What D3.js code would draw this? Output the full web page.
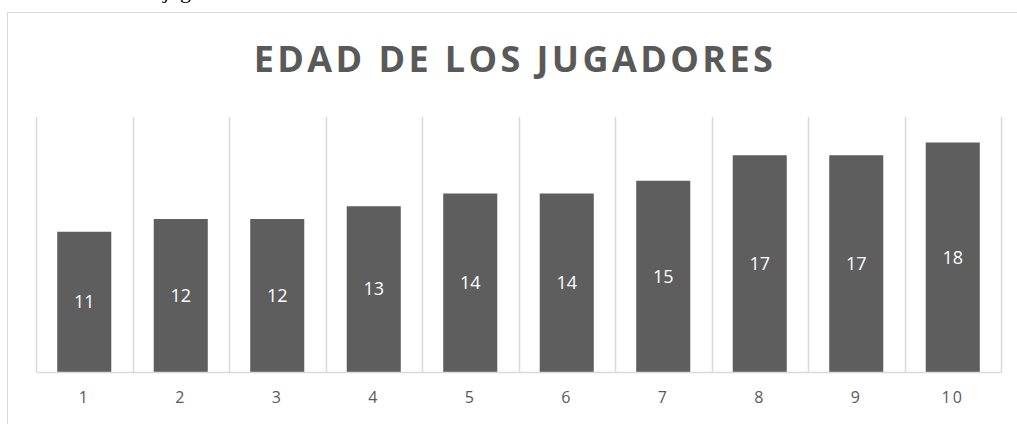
<!DOCTYPE html>
<html>
<head>
<script src="https://d3js.org/d3.v7.min.js"></script>
<style>
  body { margin: 0; background: #fff; }
  text { font-family: "Open Sans", Calibri, sans-serif; }
</style>
</head>
<body>
<svg class="target"></svg>
<script>

// jugadores 1..10 y su edad
categories = ['1', '2', '3', '4', '5', '6', '7', '8', '9', '10']
ages = [11, 12, 12, 13, 14, 14, 15, 17, 17, 18]
title = 'EDAD DE LOS JUGADORES'
yMax = 20

width = 1017
height = 424

margin = ({ top: 117, right: 16, bottom: 52, left: 36 })

svg = d3.select('.target')
      .attr('width', width)
      .attr('height', height)

// bits of the document text above the chart (only the descenders show)
svg.append('text')
    .attr('x', 163)
    .attr('y', -2)
    .style('font-family', '"Liberation Serif", serif')
    .style('font-size', '22px')
    .style('fill', '#000')
    .text('jug')

// chart frame
svg.append('rect')
    .attr('x', 7.5)
    .attr('y', 12.5)
    .attr('width', width + 10)
    .attr('height', height + 10)
    .style('fill', 'none')
    .style('stroke', '#d9d9d9')

x = d3.scaleBand()
    .domain(categories)
    .range([margin.left, width - margin.right])
    .paddingInner(0.44)
    .paddingOuter(0.22)

y = d3.scaleLinear()
    .domain([0, yMax])
    .range([height - margin.bottom, margin.top])

step = x.step()

// vertical gridlines between categories
svg.append('g')
  .selectAll('line')
  .data(d3.range(categories.length + 1))
  .join('line')
    .attr('x1', i => Math.round(margin.left + i * step) + 0.5)
    .attr('x2', i => Math.round(margin.left + i * step) + 0.5)
    .attr('y1', y(yMax))
    .attr('y2', y(0))
    .style('stroke', '#d9d9d9')
    .style('stroke-width', 1.5)

// bars
svg.append('g')
  .selectAll('rect')
  .data(ages)
  .join('rect')
    .attr('x', (d, i) => x(categories[i]))
    .attr('y', d => y(d))
    .attr('width', x.bandwidth())
    .attr('height', d => y(0) - y(d))
    .style('fill', '#5e5e5e')

// value labels in the middle of each bar
svg.append('g')
  .selectAll('text')
  .data(ages)
  .join('text')
    .attr('x', (d, i) => x(categories[i]) + x.bandwidth() / 2)
    .attr('y', d => (y(d) + y(0)) / 2)
    .attr('dy', '0.35em')
    .attr('text-anchor', 'middle')
    .style('font-size', '18px')
    .style('fill', '#fff')
    .text(d => d)

// x axis
xAxis = svg.append('g')
    .attr('transform', `translate(0,${y(0)})`)
    .call(d3.axisBottom(x).tickSize(0).tickPadding(20))

xAxis.select('.domain')
    .style('stroke', '#d9d9d9')
    .style('stroke-width', 1.5)

xAxis.selectAll('text')
    .style('font-family', '"Open Sans", sans-serif')
    .style('font-size', '16px')
    .style('letter-spacing', '2px')
    .style('fill', '#595959')

// title
svg.append('text')
    .attr('x', 515)
    .attr('y', 72)
    .attr('text-anchor', 'middle')
    .style('font-size', '36px')
    .style('font-weight', 'bold')
    .style('letter-spacing', '3.4px')
    .style('fill', '#595959')
    .text(title)

</script>
</body>
</html>
